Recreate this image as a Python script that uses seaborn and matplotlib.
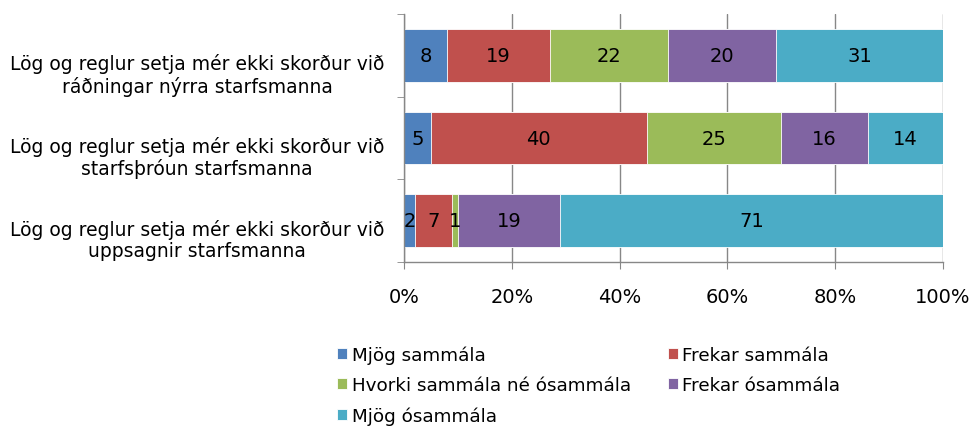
import numpy as np
import pandas as pd
import matplotlib
matplotlib.use("Agg")
import matplotlib.pyplot as plt
import matplotlib.transforms as mtransforms
import seaborn as sns
from matplotlib.ticker import PercentFormatter, FixedLocator

# %%
# Data
questions = [
    "Lög og reglur setja mér ekki skorður við\nráðningar nýrra starfsmanna",
    "Lög og reglur setja mér ekki skorður við\nstarfsþróun starfsmanna",
    "Lög og reglur setja mér ekki skorður við\nuppsagnir starfsmanna",
]
answers = [
    "Mjög sammála",
    "Frekar sammála",
    "Hvorki sammála né ósammála",
    "Frekar ósammála",
    "Mjög ósammála",
]
mjog_sammala = [8, 5, 2]
frekar_sammala = [19, 40, 7]
hvorki = [22, 25, 1]
frekar_osammala = [20, 16, 19]
mjog_osammala = [31, 14, 71]
colors = ["#4F81BD", "#C0504D", "#9BBB59", "#8064A2", "#4BACC6"]

# %%
sns.set_style("white")
plt.rcParams["font.family"] = ["DejaVu Sans"]
plt.rcParams["text.color"] = "black"
plt.rcParams["xtick.color"] = "black"
plt.rcParams["ytick.color"] = "black"

df = pd.DataFrame(
    np.array([mjog_sammala, frekar_sammala, hvorki, frekar_osammala, mjog_osammala]).T,
    index=questions, columns=answers,
)
cum = df.cumsum(axis=1)

fig = plt.figure(figsize=(9.76, 4.35), dpi=100)
ax = fig.add_axes([0.4139, 0.3954, 0.5523, 0.5701])

# stacked bars drawn as layered cumulative bars, widest first
for ans, col in reversed(list(zip(answers, colors))):
    sns.barplot(x=cum[ans].values, y=questions, orient="h", color=col,
                saturation=1, width=0.64, edgecolor="white", linewidth=0.6,
                ax=ax, label=ans, zorder=2, legend=False)

# segment labels at centre of each segment
for i, q in enumerate(questions):
    for ans in answers:
        val = df.loc[q, ans]
        mid = cum.loc[q, ans] - val / 2
        ax.text(mid, i, f"{val}", ha="center", va="center", fontsize=14,
                color="black", zorder=3)

ax.set_xlim(0, 100)
ax.set_ylim(2.5, -0.5)
ax.xaxis.set_major_locator(FixedLocator([0, 20, 40, 60, 80, 100]))
ax.xaxis.set_major_formatter(PercentFormatter(decimals=0))
ax.grid(axis="x", color="#878787", linewidth=1.0, zorder=0)
ax.set_axisbelow(True)
for s in ["top", "right"]:
    ax.spines[s].set_visible(False)
for s in ["left", "bottom"]:
    ax.spines[s].set_color("#878787")
    ax.spines[s].set_linewidth(1.0)
ax.tick_params(axis="x", length=5, color="#878787", labelsize=14, pad=13,
               direction="out", bottom=True)
ax.set_yticks(range(len(questions)))
ax.set_yticklabels(questions, ha="center", multialignment="center")
ax.tick_params(axis="y", which="major", length=0, labelsize=13.5, pad=149)
ax.yaxis.set_minor_locator(FixedLocator([-0.5, 0.5, 1.5, 2.5]))
ax.tick_params(axis="y", which="minor", length=5, color="#878787", left=True)
ax.set_xlabel("")
ax.set_ylabel("")
if ax.get_legend() is not None:
    ax.get_legend().remove()

# category labels sit a little below the bar centre, as in the original
shift = mtransforms.ScaledTranslation(0, -0.16, fig.dpi_scale_trans)
for lab in ax.get_yticklabels():
    lab.set_transform(lab.get_transform() + shift)
    lab.set_linespacing(1.15)

# legend, row-wise order in 2 columns
h, l = ax.get_legend_handles_labels()
lookup = dict(zip(l, h))
order = [answers[0], answers[2], answers[4], answers[1], answers[3]]
fig.legend([lookup[o] for o in order], order, ncol=2, frameon=False,
           loc="upper left", bbox_to_anchor=(330 / 976, 1 - 339 / 435),
           fontsize=13.2, handlelength=0.55, handleheight=0.55,
           handletextpad=0.25, columnspacing=2.0, labelspacing=0.68,
           borderaxespad=0)

fig.savefig("out.png", dpi=100)
